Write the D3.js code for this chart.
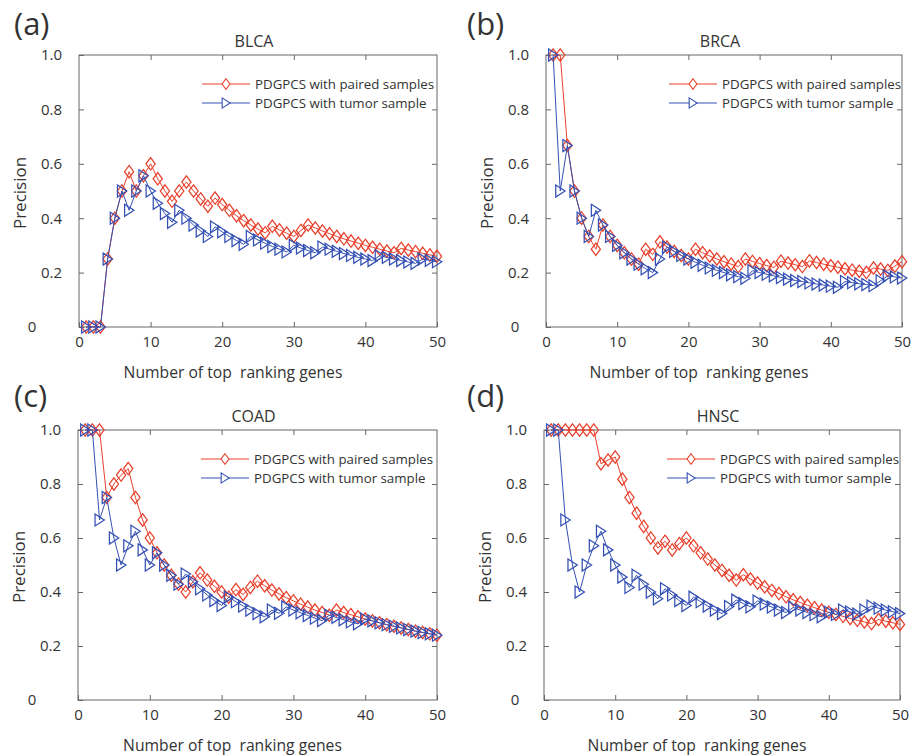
<!DOCTYPE html>
<html>
<head>
<meta charset="utf-8">
<script src="https://cdn.jsdelivr.net/npm/d3@7"></script>
<style>
  html, body { margin: 0; padding: 0; background: #fff; }
  svg { display: block; }
  text { font-family: "Open Sans", "Noto Sans", sans-serif; fill: #333; }
</style>
</head>
<body>
<svg id="chart" width="921" height="755"></svg>
<script>
// Number of top-ranking genes (x positions)
const topGenes = [1,2,3,4,5,6,7,8,9,10,11,12,13,14,15,16,17,18,19,20,
                  21,22,23,24,25,26,27,28,29,30,31,32,33,34,35,36,37,38,39,40,
                  41,42,43,44,45,46,47,48,49,50];
const xTicks = [0, 10, 20, 30, 40, 50];
const yTicks = [0, 0.2, 0.4, 0.6, 0.8, 1.0];

const seriesNames = ["PDGPCS with paired samples", "PDGPCS with tumor sample"];
const cancerTypes = ["BLCA", "BRCA", "COAD", "HNSC"];
const panelTags = ["(a)", "(b)", "(c)", "(d)"];

// Precision of the top-k genes for each cancer type
const blcaPaired = [0,0,0,0.25,0.4,0.5,0.571,0.5,0.556,0.6,
  0.545,0.5,0.462,0.5,0.533,0.5,0.471,0.444,0.474,0.45,
  0.429,0.409,0.391,0.375,0.36,0.346,0.37,0.357,0.345,0.333,
  0.355,0.375,0.364,0.353,0.343,0.333,0.324,0.316,0.308,0.3,
  0.293,0.286,0.279,0.273,0.289,0.283,0.277,0.271,0.265,0.26];
const blcaTumor = [0,0,0,0.25,0.4,0.5,0.429,0.5,0.556,0.5,
  0.455,0.417,0.385,0.429,0.4,0.375,0.353,0.333,0.368,0.35,
  0.333,0.318,0.304,0.333,0.32,0.308,0.296,0.286,0.276,0.3,
  0.29,0.281,0.273,0.294,0.286,0.278,0.27,0.263,0.256,0.25,
  0.244,0.262,0.256,0.25,0.244,0.239,0.234,0.25,0.245,0.24];

const brcaPaired = [1,1,0.667,0.5,0.4,0.333,0.286,0.375,0.333,0.3,
  0.273,0.25,0.231,0.286,0.267,0.313,0.294,0.278,0.263,0.25,
  0.286,0.273,0.261,0.25,0.24,0.231,0.222,0.25,0.241,0.233,
  0.226,0.219,0.242,0.235,0.229,0.222,0.243,0.237,0.231,0.225,
  0.22,0.214,0.209,0.205,0.2,0.217,0.213,0.208,0.224,0.24];
const brcaTumor = [1,0.5,0.667,0.5,0.4,0.333,0.429,0.375,0.333,0.3,
  0.273,0.25,0.231,0.214,0.2,0.25,0.294,0.278,0.263,0.25,
  0.238,0.227,0.217,0.208,0.2,0.192,0.185,0.179,0.207,0.2,
  0.194,0.188,0.182,0.176,0.171,0.167,0.162,0.158,0.154,0.15,
  0.146,0.167,0.163,0.159,0.156,0.152,0.17,0.188,0.184,0.18];

const coadPaired = [1,1,1,0.75,0.8,0.833,0.857,0.75,0.667,0.6,
  0.545,0.5,0.462,0.429,0.4,0.438,0.471,0.444,0.421,0.4,
  0.381,0.409,0.391,0.417,0.44,0.423,0.407,0.393,0.379,0.367,
  0.355,0.344,0.333,0.324,0.314,0.333,0.324,0.316,0.308,0.3,
  0.293,0.286,0.279,0.273,0.267,0.261,0.255,0.25,0.245,0.24];
const coadTumor = [1,1,0.667,0.75,0.6,0.5,0.571,0.625,0.556,0.5,
  0.545,0.5,0.462,0.429,0.467,0.438,0.412,0.389,0.368,0.35,
  0.381,0.364,0.348,0.333,0.32,0.308,0.333,0.321,0.345,0.333,
  0.323,0.313,0.303,0.294,0.314,0.306,0.297,0.289,0.282,0.3,
  0.293,0.286,0.279,0.273,0.267,0.261,0.255,0.25,0.245,0.24];

const hnscPaired = [1,1,1,1,1,1,1,0.875,0.889,0.9,
  0.818,0.75,0.692,0.643,0.6,0.563,0.588,0.556,0.579,0.6,
  0.571,0.545,0.522,0.5,0.48,0.462,0.444,0.464,0.448,0.433,
  0.419,0.406,0.394,0.382,0.371,0.361,0.351,0.342,0.333,0.325,
  0.317,0.31,0.302,0.295,0.289,0.283,0.298,0.292,0.286,0.28];
const hnscTumor = [1,1,0.667,0.5,0.4,0.5,0.571,0.625,0.556,0.5,
  0.455,0.417,0.462,0.429,0.4,0.375,0.412,0.389,0.368,0.35,
  0.381,0.364,0.348,0.333,0.32,0.346,0.37,0.357,0.345,0.367,
  0.355,0.344,0.333,0.324,0.343,0.333,0.324,0.316,0.308,0.325,
  0.317,0.333,0.326,0.318,0.333,0.348,0.34,0.333,0.327,0.32];

const pairedByPanel = [blcaPaired, brcaPaired, coadPaired, hnscPaired];
const tumorByPanel  = [blcaTumor,  brcaTumor,  coadTumor,  hnscTumor];

// Plot frames (left, top, right, bottom) of the 2x2 grid
const frames = [
  [79, 55, 437, 327],
  [546, 55, 902, 327],
  [78, 430, 437, 700],
  [544, 430, 900, 700]
];
// horizontal centre of the "0" label on each y axis
const zeroLabelX = [32, 515, 32, 515];

const RED = "#e8402c";
const BLUE = "#3450b4";
const AXIS = "#666";
const FONT = '"Open Sans", "Noto Sans", sans-serif';

const diamondPath = "M0,-6.2L4.6,0L0,6.2L-4.6,0Z";
const trianglePath = "M-4.5,-6L4.8,0L-4.5,6Z";

const svg = d3.select("#chart");
svg.append("rect").attr("width", 921).attr("height", 755).attr("fill", "#fff");

frames.forEach((f, i) => {
  const [x0, y0, x1, y1] = f;
  const x = d3.scaleLinear().domain([0, 50]).range([x0, x1]);
  const y = d3.scaleLinear().domain([0, 1]).range([y1, y0]);
  const g = svg.append("g");

  // inward ticks on all four sides
  const styleAxis = sel => {
    sel.select(".domain").remove();
    sel.selectAll(".tick line").attr("stroke", AXIS).attr("stroke-width", 1);
    sel.selectAll(".tick text").attr("fill", "#333")
      .style("font-family", FONT).style("font-size", "15px");
  };
  g.append("g").attr("transform", `translate(0,${y1})`)
    .call(d3.axisBottom(x).tickValues(xTicks).tickSize(-5).tickPadding(9).tickFormat(d3.format("d")))
    .call(styleAxis);
  g.append("g").attr("transform", `translate(0,${y0})`)
    .call(d3.axisTop(x).tickValues(xTicks.slice(1, -1)).tickSize(-5).tickFormat(""))
    .call(styleAxis);
  const yAxisG = g.append("g").attr("transform", `translate(${x0},0)`)
    .call(d3.axisLeft(y).tickValues(yTicks).tickSize(-5).tickPadding(17)
      .tickFormat(v => v === 0 ? "0" : d3.format(".1f")(v)))
    .call(styleAxis);
  // the "0" label sits apart from the decimal labels
  yAxisG.selectAll(".tick").filter(d => d === 0).select("text")
    .attr("text-anchor", "middle").attr("x", zeroLabelX[i] - x0);
  g.append("g").attr("transform", `translate(${x1},0)`)
    .call(d3.axisRight(y).tickValues(yTicks.slice(1, -1)).tickSize(-5).tickFormat(""))
    .call(styleAxis);

  // frame
  g.append("rect").attr("x", x0).attr("y", y0)
    .attr("width", x1 - x0).attr("height", y1 - y0)
    .attr("fill", "none").attr("stroke", AXIS).attr("stroke-width", 1);

  // series
  const series = [
    { values: pairedByPanel[i], color: RED, shape: diamondPath },
    { values: tumorByPanel[i], color: BLUE, shape: trianglePath }
  ];
  const line = d3.line().x((d, j) => x(topGenes[j])).y(d => y(d));
  series.forEach(s => {
    g.append("path").datum(s.values)
      .attr("d", line).attr("fill", "none")
      .attr("stroke", s.color).attr("stroke-width", 1);
    g.selectAll(null).data(s.values).join("path")
      .attr("d", s.shape)
      .attr("transform", (d, j) => `translate(${x(topGenes[j])},${y(d)})`)
      .attr("fill", "none").attr("stroke", s.color).attr("stroke-width", 1.25);
  });

  // legend
  series.forEach((s, j) => {
    const ly = y0 + 29 + j * 19;
    const lg = g.append("g");
    lg.append("line").attr("x1", x0 + 123).attr("x2", x0 + 171)
      .attr("y1", ly).attr("y2", ly).attr("stroke", s.color).attr("stroke-width", 1);
    lg.append("path").attr("d", s.shape)
      .attr("transform", `translate(${x0 + 147},${ly}) scale(0.85)`)
      .attr("fill", "#fff").attr("stroke", s.color).attr("stroke-width", 1.3);
    lg.append("text").attr("x", x0 + 176).attr("y", ly + 5)
      .style("font-size", "13.3px").text(seriesNames[j]);
  });

  // title
  g.append("text").attr("x", (x0 + x1) / 2 - 4).attr("y", y0 - 8)
    .attr("text-anchor", "middle").style("font-size", "16px").text(cancerTypes[i]);

  // axis titles
  g.append("text").attr("x", (x0 + x1) / 2 - 25).attr("y", y1 + 51)
    .attr("text-anchor", "middle").style("font-size", "15.7px").style("white-space", "pre")
    .text("Number of top  ranking genes");
  g.append("text")
    .attr("transform", `translate(${x0 - 53},${(y0 + y1) / 2 + 2}) rotate(-90)`)
    .attr("text-anchor", "middle").style("font-size", "17px").text("Precision");

  // panel tag
  g.append("text").attr("x", i % 2 === 0 ? 14 : 467).attr("y", i < 2 ? 35 : 407)
    .style("font-size", "31px").text(panelTags[i]);
});
</script>
</body>
</html>
